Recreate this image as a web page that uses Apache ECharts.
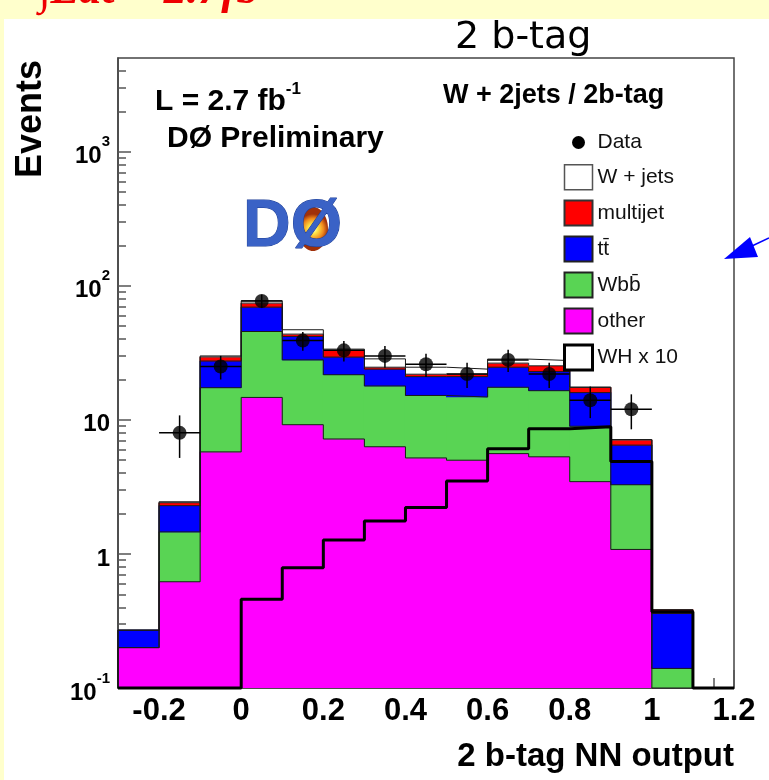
<!DOCTYPE html>
<html>
<head>
<meta charset="utf-8">
<script src="https://cdn.jsdelivr.net/npm/echarts@6/dist/echarts.min.js"></script>
<style>
  html, body { margin: 0; padding: 0; background: #ffffcc; }
  #panel { position: absolute; left: 4px; top: 19px; width: 765px; height: 761px; background: #ffffff; }
  #chart { position: absolute; left: 0; top: 0; width: 769px; height: 780px; }
</style>
</head>
<body>
<div id="panel"></div>
<div id="chart"></div>
<script>
// Histogram binning of the 2 b-tag NN output
const binEdges = [-0.3, -0.2, -0.1, 0, 0.1, 0.2, 0.3, 0.4, 0.5, 0.6, 0.7, 0.8, 0.9, 1.0, 1.1, 1.2];

// Expected events per process, listed from the bottom of the stack to the top
const otherBkg = [0.20, 0.62, 5.77, 14.7, 9.2, 7.2, 6.3, 5.2, 5.0, 5.6, 5.3, 3.46, 1.08, 0, 0];
const wbbBkg   = [0, 0.84, 11.6, 30.9, 18.8, 14.5, 11.6, 10.0, 9.8, 11.9, 11.2, 5.5, 2.2, 0.14, 0];
const ttbarBkg = [0.07, 0.83, 10.1, 23.7, 13.9, 7.7, 6.0, 5.8, 6.2, 7.2, 6.4, 7.0, 3.2, 0.22, 0];
const multijetBkg = [0, 0.12, 2.0, 5.0, 1.7, 3.6, 0.8, 0.9, 0.9, 1.8, 2.4, 1.5, 0.6, 0.023, 0];
const wjetsBkg = [0, 0.04, 0.5, 3.0, 3.4, 0.7, 3.8, 2.8, 2.0, 1.9, 2.4, 0.1, 0.05, 0, 0];

// WH signal scaled by 10
const whSignalX10 = [0, 0, 0, 0.46, 0.79, 1.27, 1.76, 2.22, 3.5, 6.1, 8.6, 8.9, 4.9, 0.37, 0];

// Observed data and its uncertainty
const dataCounts = [0, 8, 25, 77, 39, 33, 30, 26, 22, 28, 22, 14, 12, 0, 0];
const dataErrors = [0, 2.8, 5.0, 8.8, 6.2, 5.7, 5.5, 5.1, 4.7, 5.3, 4.7, 3.7, 3.5, 0, 0];

// Axis ticks
const xTickLabels = [-0.2, 0, 0.2, 0.4, 0.6, 0.8, 1, 1.2];
const xMinorTicks = [-0.25, -0.15, -0.1, -0.05, 0.05, 0.1, 0.15, 0.25, 0.3, 0.35, 0.45, 0.5, 0.55,
                     0.65, 0.7, 0.75, 0.85, 0.9, 0.95, 1.05, 1.1, 1.15];
const yTickLabels = [0.1, 1, 10, 100, 1000];
const yMinorTicks = [0.2, 0.3, 0.4, 0.5, 0.6, 0.7, 0.8, 0.9,
                     2, 3, 4, 5, 6, 7, 8, 9,
                     20, 30, 40, 50, 60, 70, 80, 90,
                     200, 300, 400, 500, 600, 700, 800, 900,
                     2000, 3000, 4000];

const Y_MIN = 0.1, Y_MAX = 5000, X_MIN = -0.3, X_MAX = 1.2;
const FONT = '"Liberation Sans", Arial, Helvetica, sans-serif';

// Stack definitions (bottom to top)
const stackDefs = [
  { name: 'other',     values: otherBkg,    color: '#ff00ff' },
  { name: 'Wb' + 'b\u0304', values: wbbBkg, color: '#59d454' },
  { name: 't' + 't\u0304', values: ttbarBkg, color: '#0000ff' },
  { name: 'multijet',  values: multijetBkg, color: '#ff0000' },
  { name: 'W + jets',  values: wjetsBkg,    color: '#ffffff' }
];

// Cumulative levels of the stack
const nBins = binEdges.length - 1;
const cumulative = [];
let running = new Array(nBins).fill(0);
stackDefs.forEach(def => {
  const low = running.slice();
  const high = running.map((v, i) => v + def.values[i]);
  cumulative.push({ def, low, high });
  running = high;
});

function stepPoints(vals) {
  const pts = [[binEdges[0], Y_MIN]];
  for (let i = 0; i < nBins; i++) {
    const v = Math.max(vals[i], Y_MIN);
    pts.push([binEdges[i], v], [binEdges[i + 1], v]);
  }
  pts.push([binEdges[nBins], Y_MIN]);
  return pts;
}

const series = [];

// Filled stack components
cumulative.forEach(({ def, low, high }) => {
  const data = [];
  for (let i = 0; i < nBins; i++) {
    data.push([binEdges[i], binEdges[i + 1], low[i], high[i]]);
  }
  series.push({
    name: def.name,
    type: 'custom',
    itemStyle: { color: def.color },
    encode: { x: [0, 1], y: [2, 3] },
    clip: true,
    z: 2,
    renderItem: (params, api) => {
      const lo = Math.max(api.value(2), Y_MIN);
      const hi = api.value(3);
      if (!(hi > lo)) return null;
      const p0 = api.coord([api.value(0), hi]);
      const p1 = api.coord([api.value(1), lo]);
      // half-pixel overlap so neighbouring bins join without seams
      return {
        type: 'rect',
        shape: { x: p0[0] - 0.5, y: p0[1] - 0.3, width: p1[0] - p0[0] + 1, height: p1[1] - p0[1] + 0.6 },
        style: { fill: def.color, stroke: null }
      };
    },
    data
  });
});

// Outlines of every stack level
cumulative.forEach(({ high }) => {
  series.push({
    type: 'line',
    data: stepPoints(high),
    symbol: 'none',
    silent: true,
    clip: false,
    z: 3,
    lineStyle: { color: '#1a1a1a', width: 1 }
  });
});

// WH x 10 signal
series.push({
  name: 'WH x 10',
  type: 'line',
  data: stepPoints(whSignalX10),
  symbol: 'none',
  clip: false,
  z: 4,
  itemStyle: { color: '#000' },
  lineStyle: { color: '#000', width: 3 }
});

// Data error bars
const errData = [];
const pointData = [];
for (let i = 0; i < nBins; i++) {
  if (dataCounts[i] > 0) {
    errData.push([binEdges[i], binEdges[i + 1], dataCounts[i], dataErrors[i]]);
    pointData.push([(binEdges[i] + binEdges[i + 1]) / 2, dataCounts[i]]);
  }
}
series.push({
  name: 'Data',
  type: 'custom',
  z: 5,
  encode: { x: [0, 1], y: 2 },
  itemStyle: { color: '#000' },
  renderItem: (params, api) => {
    const x0 = api.value(0), x1 = api.value(1), y = api.value(2), e = api.value(3);
    const xc = (x0 + x1) / 2;
    const top = api.coord([xc, y + e]);
    const bot = api.coord([xc, Math.max(y - e, Y_MIN)]);
    const left = api.coord([x0, y]);
    const right = api.coord([x1, y]);
    return {
      type: 'group',
      children: [
        { type: 'line', shape: { x1: top[0], y1: top[1], x2: bot[0], y2: bot[1] }, style: { stroke: '#000', lineWidth: 1.5 } },
        { type: 'line', shape: { x1: left[0], y1: left[1], x2: right[0], y2: right[1] }, style: { stroke: '#000', lineWidth: 1.5 } }
      ]
    };
  },
  data: errData
});
series.push({
  name: 'Data',
  type: 'scatter',
  z: 6,
  symbol: 'circle',
  symbolSize: 14,
  itemStyle: { color: '#000' },
  data: pointData
});

const chart = echarts.init(document.getElementById('chart'), null, { renderer: 'canvas' });

function yLabel(v) {
  const e = Math.round(Math.log10(v));
  if (e === 0) return '{b|1}';
  if (e === 1) return '{b|10}';
  return '{b|10}{s|' + e + '}';
}

const option = {
  backgroundColor: 'transparent',
  animation: false,
  grid: {
    left: 118, right: 35, top: 58, bottom: 92,
    show: true, borderColor: '#444', borderWidth: 1.5, backgroundColor: 'transparent'
  },
  xAxis: [{
    type: 'value', min: X_MIN, max: X_MAX,
    axisLine: { show: true, onZero: false, lineStyle: { color: '#444', width: 1.5 } },
    axisTick: { show: true, inside: true, length: 18, customValues: xTickLabels, lineStyle: { color: '#555', width: 1.5 } },
    axisLabel: {
      customValues: xTickLabels, margin: 8,
      fontSize: 31, fontWeight: 'bold', fontFamily: FONT, color: '#000',
      formatter: v => String(v)
    },
    splitLine: { show: false },
    name: '2 b-tag NN output',
    nameLocation: 'end',
    nameGap: 0,
    nameTextStyle: {
      fontSize: 33, fontWeight: 'bold', fontFamily: FONT, color: '#000',
      align: 'right', verticalAlign: 'top', padding: [52, 0, 0, 0]
    }
  }, {
    type: 'value', min: X_MIN, max: X_MAX,
    position: 'bottom',
    axisLine: { show: false, onZero: false },
    axisTick: { show: true, inside: true, length: 10, customValues: xMinorTicks, lineStyle: { color: '#555', width: 1.5 } },
    axisLabel: { show: false },
    splitLine: { show: false }
  }],
  yAxis: [{
    type: 'log', logBase: 10, min: Y_MIN, max: Y_MAX,
    position: 'left',
    axisLine: { show: true, onZero: false, lineStyle: { color: '#444', width: 1.5 } },
    axisTick: { show: true, inside: true, length: 13, customValues: yTickLabels, lineStyle: { color: '#555', width: 1.5 } },
    axisLabel: {
      customValues: yTickLabels, margin: 8,
      fontFamily: FONT, color: '#000',
      formatter: yLabel,
      rich: {
        b: { fontSize: 24, fontWeight: 'bold', fontFamily: FONT, color: '#000', lineHeight: 34, verticalAlign: 'bottom' },
        s: { fontSize: 15, fontWeight: 'bold', fontFamily: FONT, color: '#000', lineHeight: 16, verticalAlign: 'top' }
      }
    },
    splitLine: { show: false }
  }, {
    type: 'log', logBase: 10, min: Y_MIN, max: Y_MAX,
    position: 'left',
    offset: 0,
    axisLine: { show: false, onZero: false },
    axisTick: { show: true, inside: true, length: 8, customValues: yMinorTicks, lineStyle: { color: '#555', width: 1.5 } },
    axisLabel: { show: false },
    splitLine: { show: false }
  }],
  legend: {
    orient: 'vertical', left: 558, top: 125,
    itemWidth: 28, itemHeight: 25, itemGap: 9,
    selectedMode: false,
    textStyle: { fontSize: 21, color: '#111', fontFamily: FONT },
    data: [
      { name: 'Data', icon: 'path://M0,0M28,25M20.5,12.5A6.5,6.5,0,1,1,7.5,12.5A6.5,6.5,0,1,1,20.5,12.5Z', itemStyle: { color: '#000', borderWidth: 0 } },
      { name: 'W + jets', icon: 'rect', itemStyle: { color: '#ffffff', borderColor: '#555', borderWidth: 1.5 } },
      { name: 'multijet', icon: 'rect', itemStyle: { color: '#ff0000', borderColor: '#333', borderWidth: 2 } },
      { name: 't' + 't\u0304', icon: 'rect', itemStyle: { color: '#0000ff', borderColor: '#222', borderWidth: 2 } },
      { name: 'Wb' + 'b\u0304', icon: 'rect', itemStyle: { color: '#59d454', borderColor: '#222', borderWidth: 2 } },
      { name: 'other', icon: 'rect', itemStyle: { color: '#ff00ff', borderColor: '#222', borderWidth: 2 } },
      { name: 'WH x 10', icon: 'rect', itemStyle: { color: '#ffffff', borderColor: '#000', borderWidth: 3 } }
    ]
  },
  graphic: [
    // luminosity line at the top of the slide
    { type: 'text', x: 38, y: -9, z: 10,
      style: { text: '\u222BLdt = 2.7fb\u207B\u00B9', font: 'italic bold 46px "Liberation Serif", serif', fill: '#ee0000', align: 'left', verticalAlign: 'middle' } },
    { type: 'text', x: 455, y: 38, z: 10,
      style: { text: '2 b-tag', font: '38px "DejaVu Sans", sans-serif', fill: '#000', align: 'left', verticalAlign: 'middle' } },
    // y axis title
    { type: 'text', x: 31, y: 178, rotation: Math.PI / 2, z: 10,
      style: { text: 'Events', font: 'bold 36px ' + FONT, fill: '#000', align: 'left', verticalAlign: 'middle' } },
    // plot annotations
    { type: 'text', x: 155, y: 99, z: 10,
      style: {
        text: '{a|L = 2.7 fb}{s|-1}', align: 'left', verticalAlign: 'middle',
        rich: {
          a: { font: 'bold 30px ' + FONT, fill: '#000', lineHeight: 36, verticalAlign: 'bottom' },
          s: { font: 'bold 17px ' + FONT, fill: '#000', lineHeight: 18, verticalAlign: 'top' }
        }
      } },
    { type: 'text', x: 167, y: 139, z: 10,
      style: { text: 'D\u00D8 Preliminary', font: 'bold 30px ' + FONT, fill: '#000', align: 'left', verticalAlign: 'middle' } },
    { type: 'text', x: 443, y: 96, z: 10,
      style: { text: 'W + 2jets / 2b-tag', font: 'bold 27px ' + FONT, fill: '#000', align: 'left', verticalAlign: 'middle' } },
    // experiment logo
    { type: 'ellipse', z: 9, shape: { cx: 313, cy: 229, rx: 15, ry: 22 },
      style: { fill: new echarts.graphic.RadialGradient(0.5, 0.5, 0.5, [
        { offset: 0, color: '#ffffff' }, { offset: 0.3, color: '#ffe94a' },
        { offset: 0.7, color: '#f08a1c' }, { offset: 1, color: '#a0300a' }]) } },
    { type: 'text', x: 243, y: 228, z: 10,
      style: { text: 'D\u00D8', font: '900 66px ' + FONT, fill: '#3a62c6', stroke: '#1e3f96', lineWidth: 1, align: 'left', verticalAlign: 'middle' } },
    // pointer arrow at the right edge
    { type: 'line', z: 10, shape: { x1: 752, y1: 246, x2: 769, y2: 238 }, style: { stroke: '#0000ff', lineWidth: 1.5 } },
    { type: 'polygon', z: 10, shape: { points: [[724, 259], [750, 237], [758, 257]] }, style: { fill: '#0000ff' } }
  ],
  series
};

chart.setOption(option);
</script>
</body>
</html>
